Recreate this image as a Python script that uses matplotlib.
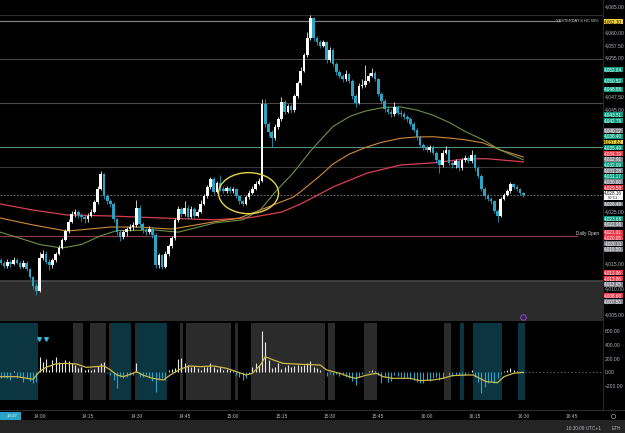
import numpy as np
import matplotlib
matplotlib.use("Agg")
import matplotlib.pyplot as plt
from matplotlib.patches import Rectangle, Ellipse
from matplotlib.lines import Line2D
import matplotlib.transforms as mtrans

plt.rcParams['font.family'] = ['Liberation Sans', 'DejaVu Sans']

# ---------------- data ----------------
minutes = np.arange(-12, 151)          # minutes after 14:00, 1-minute candles
first_open = 4015.5
closes = [
 4015.0, 4014.4, 4015.2, 4014.8, 4015.5, 4015.0, 4014.3, 4015.0, 4013.8, 4012.2, 4010.5, 4009.6,
 4016.0, 4016.8, 4015.2, 4014.5, 4015.5, 4016.8, 4018.0, 4019.5, 4021.2, 4023.0, 4024.5,
 4025.0, 4024.3, 4024.0, 4023.5, 4024.2, 4025.0, 4026.8, 4029.5, 4032.3, 4028.0,
 4027.0, 4026.5, 4023.5, 4021.0, 4020.0, 4021.0, 4021.6, 4022.0, 4022.3, 4025.8,
 4022.5, 4021.5, 4021.0, 4021.6, 4020.5, 4014.5, 4016.5, 4014.3, 4016.8, 4018.3,
 4019.8, 4023.3, 4025.5, 4024.5, 4025.8, 4024.0, 4025.5, 4024.2, 4025.0, 4026.5,
 4028.0, 4029.8, 4031.4, 4028.9, 4030.5, 4029.5, 4029.0, 4029.6, 4029.0, 4029.4,
 4028.0, 4027.0, 4026.5, 4027.8, 4028.7, 4029.5, 4030.4, 4031.0, 4046.0, 4042.0,
 4040.5, 4039.3, 4041.5, 4043.0, 4046.3, 4044.5, 4045.5, 4044.8, 4047.5, 4050.0,
 4052.5, 4055.5, 4058.8, 4062.7, 4058.8, 4058.0, 4057.3, 4058.0, 4054.5, 4056.5,
 4053.8, 4052.2, 4051.5, 4050.8, 4051.8, 4050.5, 4047.5, 4046.2, 4049.5, 4049.6,
 4050.5, 4051.5, 4052.0, 4050.8, 4048.0, 4046.5, 4045.0, 4044.5, 4044.0, 4045.3,
 4044.3, 4044.0, 4043.5, 4043.0, 4042.0, 4041.0, 4039.5, 4038.0, 4037.5, 4037.0,
 4037.6, 4036.5, 4035.0, 4034.0, 4036.5, 4037.0, 4034.5, 4034.0, 4034.8, 4033.5,
 4035.0, 4035.5, 4034.8, 4036.0, 4033.5, 4032.0, 4029.5, 4028.0, 4027.5, 4027.0,
 4025.2, 4024.2, 4027.5, 4028.3, 4029.0, 4030.3, 4029.8, 4029.4, 4028.6, 4028.16]
highs = [
 4016.0, 4015.4, 4015.8, 4015.6, 4016.2, 4015.9, 4015.3, 4015.6, 4015.3, 4014.0, 4012.5, 4011.0,
 4017.2, 4017.5, 4017.3, 4015.8, 4016.0, 4017.2, 4018.4, 4019.9, 4021.6, 4023.5, 4025.2,
 4025.6, 4025.4, 4024.8, 4024.4, 4024.7, 4025.5, 4027.2, 4029.9, 4033.0, 4032.6,
 4028.4, 4027.4, 4026.8, 4023.8, 4021.4, 4021.5, 4022.0, 4022.5, 4023.0, 4027.3,
 4026.2, 4022.9, 4021.9, 4022.2, 4022.0, 4020.8, 4017.0, 4016.8, 4017.3, 4018.7,
 4020.2, 4023.7, 4026.0, 4025.9, 4027.0, 4026.2, 4026.0, 4025.9, 4025.6, 4027.3,
 4028.5, 4030.2, 4031.8, 4031.7, 4031.0, 4032.2, 4029.9, 4030.0, 4029.9, 4029.8,
 4029.7, 4028.3, 4027.3, 4028.2, 4029.2, 4029.9, 4030.9, 4031.6, 4047.0, 4047.0,
 4042.5, 4040.9, 4042.0, 4043.5, 4047.3, 4046.7, 4046.0, 4046.0, 4048.0, 4050.5,
 4053.2, 4056.0, 4060.0, 4063.3, 4063.0, 4059.3, 4058.5, 4058.5, 4058.3, 4057.0,
 4056.9, 4054.1, 4052.6, 4051.9, 4052.6, 4052.1, 4050.8, 4047.9, 4050.0, 4050.8,
 4053.5, 4052.0, 4053.0, 4052.4, 4051.1, 4048.4, 4046.9, 4045.5, 4045.0, 4046.4,
 4045.7, 4044.8, 4044.5, 4043.9, 4043.4, 4042.4, 4041.3, 4039.8, 4038.4, 4037.9,
 4038.0, 4037.9, 4036.8, 4035.3, 4037.0, 4037.8, 4037.3, 4034.9, 4035.3, 4035.1,
 4035.5, 4036.0, 4035.9, 4037.0, 4036.3, 4033.8, 4032.3, 4029.8, 4028.4, 4027.9,
 4027.3, 4025.5, 4027.9, 4028.7, 4029.4, 4030.8, 4030.6, 4030.1, 4029.7, 4028.9]
lows = [
 4014.6, 4014.0, 4014.1, 4014.3, 4014.6, 4014.7, 4013.8, 4014.0, 4013.4, 4011.8, 4010.0, 4008.8,
 4009.3, 4015.6, 4014.8, 4013.6, 4014.0, 4015.2, 4016.5, 4017.7, 4019.2, 4020.9, 4022.8,
 4024.0, 4023.8, 4023.2, 4022.8, 4023.0, 4023.9, 4024.7, 4026.5, 4029.2, 4027.5,
 4026.5, 4025.9, 4023.0, 4020.4, 4019.2, 4019.7, 4020.3, 4021.2, 4021.5, 4022.0,
 4022.0, 4020.9, 4020.4, 4020.6, 4019.8, 4014.0, 4014.1, 4013.8, 4014.0, 4016.4,
 4017.9, 4019.5, 4023.0, 4024.0, 4024.1, 4023.5, 4023.7, 4023.8, 4023.9, 4024.7,
 4026.2, 4027.7, 4029.5, 4028.5, 4028.6, 4029.0, 4028.6, 4028.7, 4028.6, 4028.7,
 4027.6, 4026.5, 4026.0, 4026.2, 4027.5, 4028.4, 4029.2, 4030.1, 4030.7, 4041.5,
 4039.8, 4037.6, 4039.0, 4041.2, 4042.7, 4044.0, 4044.2, 4044.3, 4044.5, 4047.2,
 4049.7, 4052.2, 4055.2, 4058.5, 4058.3, 4057.5, 4056.8, 4057.0, 4054.0, 4054.2,
 4053.3, 4051.7, 4051.0, 4050.3, 4050.5, 4050.0, 4047.0, 4045.3, 4045.9, 4049.0,
 4049.3, 4050.2, 4051.2, 4050.4, 4047.6, 4046.0, 4044.5, 4044.0, 4043.5, 4043.7,
 4043.9, 4043.5, 4043.0, 4042.5, 4041.6, 4040.5, 4039.0, 4037.5, 4037.0, 4036.6,
 4036.7, 4036.0, 4034.5, 4032.5, 4033.7, 4036.2, 4034.0, 4033.6, 4033.5, 4033.0,
 4033.2, 4034.7, 4034.4, 4034.5, 4033.0, 4031.5, 4029.0, 4027.5, 4027.0, 4026.5,
 4024.8, 4023.0, 4023.9, 4027.2, 4028.0, 4028.7, 4029.4, 4029.0, 4028.2, 4027.9]

# moving averages (minute, price)
ma_red_t = [-12.2, -2, 8.5, 22, 36, 54, 65, 75, 81, 91, 101.5, 112, 122, 132.5, 139, 150]
ma_red_p = [4026.5, 4025.3, 4024.35, 4024.15, 4023.8, 4023.4, 4023.8, 4024.9, 4026.5, 4029.8,
            4032.5, 4034.1, 4034.5, 4035.3, 4035.3, 4034.7]
ma_org_t = [-12.2, -2, 8.5, 22, 30.5, 41, 54, 62, 68.4, 78.6, 81, 87, 91, 96, 101.5, 106, 112,
            117, 122, 127, 132, 137.5, 143, 150]
ma_org_p = [4023.75, 4022.4, 4021.2, 4022.0, 4022.0, 4021.6, 4023.0, 4023.75, 4025.3, 4027.8,
            4028.9, 4032.0, 4034.3, 4036.2, 4037.6, 4038.5, 4039.3, 4039.55, 4039.6, 4039.35,
            4039.0, 4038.4, 4037.0, 4035.65]
ma_grn_t = [-12.2, -5, 0, 7, 13, 19, 24, 36, 43, 54.4, 63, 68.4, 73.6, 78.6, 84, 87, 91, 96.3,
            101, 106.5, 112, 117, 122, 127.3, 132, 137.5, 142.8, 150]
ma_grn_p = [4021.0, 4019.6, 4018.6, 4017.9, 4018.6, 4020.3, 4021.3, 4021.4, 4021.0, 4022.8,
            4023.4, 4025.3, 4029.2, 4032.5, 4036.8, 4038.9, 4041.6, 4043.6, 4044.6, 4045.3,
            4045.4, 4044.8, 4043.8, 4042.3, 4040.6, 4039.0, 4037.0, 4035.1]

# horizontal price levels
level_prices = [4063.3, 4054.8, 4046.17, 4037.6, 4033.7]
level_colors = ['#2c2c2c', '#4a4a4a', '#4a4a4a', '#4f8f7c', '#363636']
yesterday_hc50 = 4062.10
daily_open = 4020.3
lower_zone_top = 4011.47
last_price = 4028.16

# circled zone
circle_center = (64.8, 4028.6)
circle_size = (18.6, 8.0)

# right-scale tick labels that are visible
price_ticks = [4065.0, 4060.0, 4057.5, 4055.0, 4047.5, 4045.0, 4025.0, 4015.0, 4010.0, 4005.0]

# price tags on the right scale (top to bottom as displayed)
tag_values = [4062.10, 4052.64, 4050.52, 4048.88, 4043.51, 4042.79, 4040.12, 4038.40, 4037.62,
              4035.49, 4034.19, 4032.91, 4032.09, 4031.28, 4031.17, 4030.66, 4029.58, 4028.16,
              4026.49, 4023.68, 4022.96, 4021.01, 4020.05, 4020.11, 4019.50, 4013.06, 4013.06,
              4012.65, 4008.68, 4007.50]
tag_kinds = ['y', 'g', 'g', 'g', 'g', 'g', 'k', 'g', 'y',
             'g', 'r', 'k', 'g', 'k', 'g', 'k', 'r', 'w',
             'k', 'g', 'k', 'r', 'r', 'k', 'k', 'r', 'r',
             'k', 'r', 'k']
countdown = "00:51"

# indicator histogram (one value per minute)
hist = [
 -87, -63, -77, -111, 19, -87, -63, -135, -101, -121, -160, -135,
 227, 155, 193, 34, 179, 227, 155, 140, 179, 169, 140,
 106, 58, 82, 34, 43, 34, 43, 92, 130, 155,
 -14, -39, -111, -232, -63, -87, -63, -39, -39, 130,
 -63, -63, -39, -63, -121, -280, -111, -87, -111, 34,
 43, 58, 188, 203, 130, 106, 72, 92, 58, 34,
 72, 82, 140, 72, 43, 72, 34, 53, 34, 19,
 -39, -63, -111, -87, -24, 82, 140, 106, 604, 444,
 179, 58, 82, 130, 43, 82, 106, 82, 92, 106,
 92, 106, 140, 164, 82, 58, 34, 10, -53, -24,
 -39, -24, -53, -39, -63, -87, -121, -184, -63, -24,
 10, 24, 34, 15, -39, -150, -72, -135, -121, -43,
 -53, -63, -87, -63, -101, -111, -135, -160, -150, -111,
 -121, -87, -63, -111, -87, 10, -39, -53, -39, -39,
 -24, -39, -14, 34, -63, -135, -304, -208, -160, -135,
 -160, -87, -24, 19, 34, 58, 34, 19, 10, -14]
ind_line_t = [-12.2, -7, -2, 0, 2, 5, 8, 11.5, 14.5, 17.5, 20, 22, 24, 26, 29, 30, 32, 35, 38.5,
              40.5, 43.5, 46.5, 50, 54, 58, 61, 64, 66, 68.5, 70, 72.5, 75.5, 81, 87, 89, 93, 96,
              98, 101.5, 104.5, 106.5, 109.5, 115, 118, 122, 125, 128, 132.5, 134.5, 138.5, 142,
              144, 147, 150]
ind_line_v = [-63, -63, -101, 10, 72, 121, 130, 121, 72, 82, 92, 34, -39, -63, -14, 10, -39, -87,
              -111, -39, 43, 92, 82, 92, 58, 10, -39, -14, 106, 227, 179, 130, 116, 106, 34, -14,
              -63, -87, -39, -14, -63, -87, -87, -121, -111, -87, -48, -39, -39, -135, -150, -63,
              -14, 0]
signal_t = [-0.2, 2.0]
signal_v = [480, 480]

# session background blocks of the indicator pane (start, end, kind)
blocks = [(-12.5, -0.5, 't'), (-0.5, 10.5, 'b'), (10.5, 13.5, 'g'), (13.5, 15.5, 'b'),
          (15.5, 20.5, 'g'), (20.5, 21.5, 'b'), (21.5, 22.5, 'g'), (22.5, 28.5, 't'),
          (28.5, 29.5, 'b'), (29.5, 30.5, 'g'), (30.5, 39.5, 't'), (39.5, 43.5, 'b'),
          (43.5, 44.5, 'g'), (44.5, 45.5, 'b'), (45.5, 59.5, 'g'), (59.5, 60.5, 'b'),
          (60.5, 61.5, 'g'), (61.5, 65.5, 'b'), (65.5, 88.5, 'g'), (88.5, 89.5, 'b'),
          (89.5, 91.5, 'g'), (91.5, 100.5, 'b'), (100.5, 104.5, 'g'), (104.5, 125.5, 'b'),
          (125.5, 127.5, 'g'), (127.5, 130.5, 'b'), (130.5, 131.5, 't'), (131.5, 134.5, 'b'),
          (134.5, 143.5, 't'), (143.5, 148.5, 'b'), (148.5, 150.5, 't'), (150.5, 176, 'b')]

ind_ticks = [600, 400, 200, 0, -200]
ind_tick_labels = ['600.00', '400.00', '200.00', '0.00', '\u2212200.00']
time_ticks = [0, 15, 30, 45, 60, 75, 90, 105, 120, 135, 150, 165]
time_labels = ['14:00', '14:15', '14:30', '14:45', '15:00', '15:15', '15:30', '15:45',
               '16:00', '16:15', '16:30', '16:45']

# ---------------- figure ----------------
W, H = 625, 433
fig = plt.figure(figsize=(W / 100, H / 100), dpi=100, facecolor='black')
XL = (-12.25, 174.7)

ax = fig.add_axes([0, 1 - 321 / H, 603 / W, 321 / H])
ax.set_facecolor('black')
ax.set_xlim(*XL)
ax.set_ylim(4003.68, 4066.25)
for s in ax.spines.values():
    s.set_visible(False)

# lower grey zone
ax.axhspan(4000, lower_zone_top, color='#2b2b2b', lw=0, zorder=0)
ax.axhline(lower_zone_top, color='#474747', lw=1.2, zorder=1)

for lp, lc in zip(level_prices, level_colors):
    ax.axhline(lp, color=lc, lw=0.8, zorder=1)
ax.axhline(yesterday_hc50, xmax=560 / 603, color='#808080', lw=0.9, zorder=1)
ax.axhline(daily_open, xmax=577 / 603, color='#8a3646', lw=0.9, zorder=1)
ax.axhline(last_price, color='#8a8a8a', lw=0.6, ls=(0, (2, 2)), zorder=1)

btr = mtrans.blended_transform_factory(ax.transAxes, ax.transData)
ax.text(599 / 603, yesterday_hc50, "YESTERDAY'S HC 50%", transform=btr, ha='right', va='center',
        fontsize=2.8, color='#d8d8d8', zorder=6)
ax.text(599 / 603, daily_open + 0.35, "Daily Open", transform=btr, ha='right', va='center',
        fontsize=3.3, color='#d8d8d8', zorder=6)

# moving averages
ax.plot(ma_red_t, ma_red_p, color='#d8404f', lw=0.9, zorder=2)
ax.plot(ma_org_t, ma_org_p, color='#d08a3c', lw=0.8, zorder=2)
ax.plot(ma_grn_t, ma_grn_p, color='#6f8f45', lw=0.8, zorder=2)

# candles
opens = [first_open] + closes[:-1]
UP, DN = '#ffffff', '#2aa4c4'
cols = [UP if c >= o else DN for o, c in zip(opens, closes)]
bottoms = [min(o, c) for o, c in zip(opens, closes)]
heights = [max(abs(c - o), 0.18) for o, c in zip(opens, closes)]
ax.vlines(minutes, lows, highs, colors=cols, lw=0.55, zorder=3)
ax.bar(minutes, heights, bottom=bottoms, width=0.82, color=cols, lw=0, zorder=4)

# circled area
ax.add_patch(Ellipse(circle_center, circle_size[0], circle_size[1], fill=False,
                     edgecolor='#e3d44a', lw=1.0, zorder=5))

# purple marker
ax.plot([149.9], [4004.4], 'o', ms=4, mfc='#3a1f55', mec='#9b59d0', mew=0.6, zorder=6,
        clip_on=False)

# right price scale labels
ax.yaxis.tick_right()
ax.set_yticks(price_ticks)
ax.set_yticklabels([f"{v:,.2f}" for v in price_ticks])
ax.tick_params(axis='y', length=0, pad=1.4, labelsize=3.6, labelcolor='#b2b5be')
ax.set_xticks([])

# tags on the price scale
axp = fig.add_axes([603 / W, 1 - 321 / H, 22 / W, 321 / H])
axp.set_xlim(0, 22)
axp.set_ylim(4003.68, 4066.25)
axp.axis('off')
axp.set_zorder(5)
px_per = 321 / (4066.25 - 4003.68)
tag_h = [(10.0 if k == 'w' else 5.7) / px_per for k in tag_kinds]

# layout: the last-price tag stays at its price, the others are pushed away from it
anchor = tag_kinds.index('w')
centers = [0.0] * len(tag_values)
centers[anchor] = tag_values[anchor]
for i in range(anchor - 1, -1, -1):
    centers[i] = max(tag_values[i], centers[i + 1] + (tag_h[i] + tag_h[i + 1]) / 2)
for i in range(anchor + 1, len(tag_values)):
    centers[i] = min(tag_values[i], centers[i - 1] - (tag_h[i] + tag_h[i - 1]) / 2)

kind_fc = {'y': '#f2d13c', 'g': '#0b9a80', 'r': '#e8384a', 'k': '#7c7f88', 'w': '#ffffff'}
kind_tc = {'y': '#111111', 'g': '#ffffff', 'r': '#ffffff', 'k': '#ffffff', 'w': '#111111'}
for i, (v, k) in enumerate(zip(tag_values, tag_kinds)):
    cy = centers[i]
    h = tag_h[i]
    axp.add_patch(Rectangle((0.5, cy - h / 2 + 0.08), 19.3, h - 0.16, facecolor=kind_fc[k],
                            lw=0, clip_on=False))
    if k == 'w':
        axp.text(10.2, cy + h / 4, f"{v:,.2f}", ha='center', va='center', fontsize=3.3,
                 color=kind_tc[k], clip_on=False)
        axp.text(10.2, cy - h / 4, countdown, ha='center', va='center', fontsize=3.1,
                 color='#333333', clip_on=False)
    else:
        axp.text(10.2, cy, f"{v:,.2f}", ha='center', va='center', fontsize=3.3,
                 color=kind_tc[k], clip_on=False)

# ---------------- indicator pane ----------------
axi = fig.add_axes([0, 1 - 410 / H, 603 / W, 88 / H])
axi.set_facecolor('black')
axi.set_xlim(*XL)
axi.set_ylim(-546, 729)
for s in axi.spines.values():
    s.set_visible(False)
block_colors = {'t': '#0b3540', 'b': '#000000', 'g': '#2b2b2b'}
for a, b, k in blocks:
    axi.axvspan(a, b, ymin=10 / 88, ymax=87 / 88, color=block_colors[k], lw=0, zorder=0)

hcols = ['#e8e8e8' if v >= 0 else '#2aa4c4' for v in hist]
axi.vlines(minutes, 0, hist, colors=hcols, lw=0.8, zorder=2)
axi.plot(ind_line_t, ind_line_v, color='#cdb94a', lw=0.9, zorder=3)
axi.plot([150.5, 174], [0, 0], color='#6a6a6a', lw=0.8, ls=(0, (1, 2.2)), zorder=2)
axi.plot(signal_t, signal_v, 'v', ms=2.6, color='#38b6d9', zorder=4)

axi.yaxis.tick_right()
axi.set_yticks(ind_ticks)
axi.set_yticklabels(ind_tick_labels)
axi.tick_params(axis='y', length=0, pad=1.4, labelsize=3.6, labelcolor='#b2b5be')
axi.set_xticks(time_ticks)
axi.set_xticklabels(time_labels)
axi.tick_params(axis='x', length=0, pad=2.6, labelsize=3.5, labelcolor='#b2b5be')

# ---------------- frame details ----------------
fig.add_artist(Line2D([0, 1], [1 - 410 / H] * 2, color='#2e2e2e', lw=0.8))
fig.add_artist(Line2D([602.5 / W] * 2, [1 - 410 / H, 1], color='#262626', lw=0.8))
fig.add_artist(Rectangle((0, 0), 1, 13 / H, transform=fig.transFigure, facecolor='#242424',
                         lw=0))
fig.add_artist(Rectangle((0, 1 - 420 / H), 21 / W, 8 / H, transform=fig.transFigure,
                         facecolor='#2aa4c4', lw=0))
fig.text(18 / W, 1 - 416 / H, "13:27", ha='right', va='center', fontsize=3.2, color='#ffffff')
fig.text(601 / W, 1 - 428 / H, "16:30:09 UTC+1", ha='right', va='center', fontsize=3.4,
         color='#b2b5be')
fig.text(612 / W, 1 - 428 / H, "ETH", ha='left', va='center', fontsize=3.4, color='#b2b5be')
fig.add_artist(Line2D([613 / W], [1 - 416 / H], marker='o', ms=3.2, mfc='none', mec='#9a9a9a',
                      mew=0.5))

fig.savefig("out.png", dpi=100, facecolor='black')
